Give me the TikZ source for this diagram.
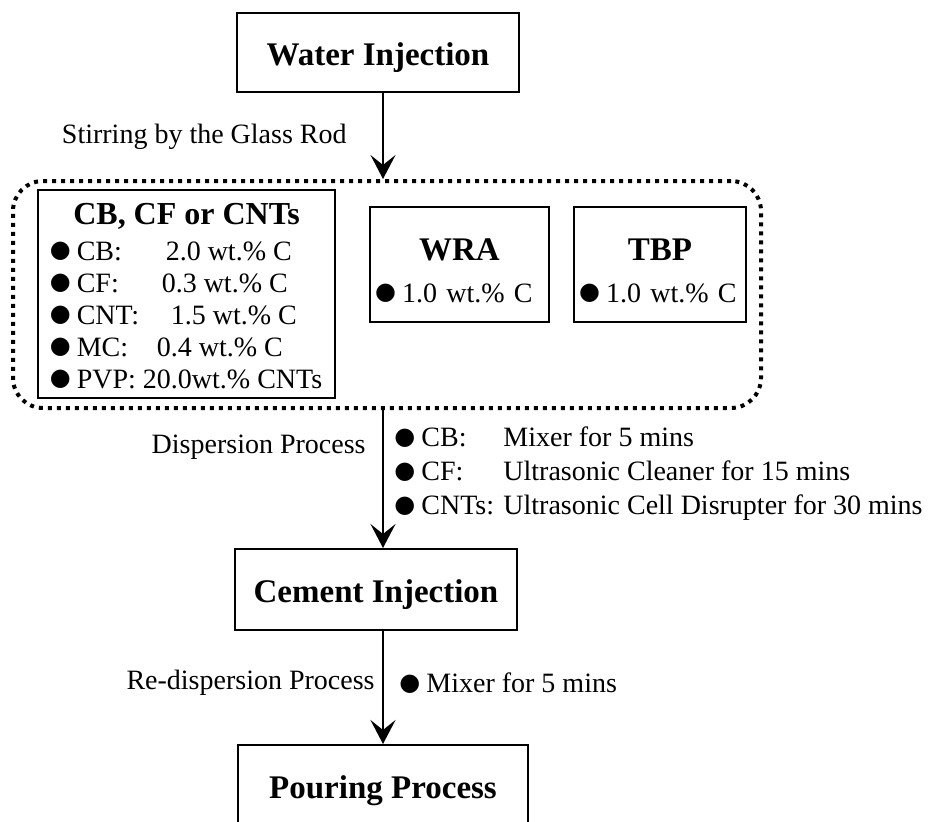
\documentclass[tikz,border=0pt]{standalone}
\usepackage{fontspec}
\setmainfont{Liberation Serif}
\newfontfamily\symfont{DejaVu Sans}
\usetikzlibrary{arrows.meta}

\newcommand{\hd}[1]{{\fontsize{16.5}{20}\selectfont\bfseries #1}}
\newcommand{\bl}{\makebox[13pt][l]{\hspace*{-0.5pt}\raisebox{1.2pt}{\symfont\fontsize{12}{12}\selectfont ●}}}

\begin{document}
\begin{tikzpicture}[x=0.5pt,y=-0.5pt,font=\fontsize{14}{16}\selectfont,
    flow/.style={-{Stealth[length=12pt,width=12.5pt,inset=5pt]},line width=1.3pt},
    lbl/.style={inner sep=0pt}]

  \useasboundingbox (0,0) rectangle (928,821);
  \clip (0,0) rectangle (928,821);

  \coordinate (col) at (383,0);

  \begin{scope}[every node/.style={draw,line width=1pt,inner sep=0pt}]
    \begin{scope}[every node/.append style={text height=13.4pt,text depth=0pt}]
      \node (water)  [minimum width=141pt,minimum height=39.5pt] at (378,52.5) {\hd{Water Injection}};
      \node (cement) [minimum width=141pt,minimum height=40.5pt] at (376,589.5) {\hd{Cement Injection}};
      \node (pour)   [minimum width=145pt,minimum height=40pt] at (383,785) {\hd{Pouring Process}};
    \end{scope}
    \node (carbon) [minimum width=148.5pt,minimum height=103pt] at (186.5,294) {%
      \begin{tabular}{@{}l@{}}
        \multicolumn{1}{@{}c@{}}{\rule{0pt}{17pt}{\fontsize{16}{20}\selectfont\bfseries CB, CF or CNTs}}\\[2pt]
        \bl\makebox[44.5pt][l]{CB:}2.0 wt.\% C\\
        \bl\makebox[42.5pt][l]{CF:}0.3 wt.\% C\\
        \bl\makebox[47pt][l]{CNT:}1.5 wt.\% C\\
        \bl\makebox[40pt][l]{MC:}0.4 wt.\% C\\
        \bl PVP: 20.0wt.\% CNTs
      \end{tabular}};
    \node (wra) [text width=83.5pt,inner xsep=3pt,minimum height=57.5pt,align=left] at (459.5,264.5)
      {\makebox[\linewidth][c]{\rule{0pt}{17pt}\hd{WRA}}\\[5pt]\bl 1.0 wt.\% C};
    \node (tbp) [text width=80pt,inner xsep=3pt,minimum height=57.5pt,align=left] at (660,264.5)
      {\makebox[\linewidth][c]{\rule{0pt}{17pt}\hd{TBP}}\\[5pt]\bl 1.0 wt.\% C};
  \end{scope}

  \node (mix) [draw,line width=2pt,dash pattern=on 2pt off 2.5pt,rounded corners=15pt,
    minimum width=374pt,minimum height=113.5pt,inner sep=0pt] at (387,294.5) {};

  \node (stir) [lbl,anchor=east] at (347,137) {Stirring by the Glass Rod};
  \node (disp) [lbl,anchor=east] at (366,447) {Dispersion Process};
  \node (tools) [lbl,anchor=west] at (395,474) {%
    \begin{tabular}{@{}l@{ }l@{}}
      \bl CB: & Mixer for 5 mins\\[1pt]
      \bl CF: & Ultrasonic Cleaner for 15 mins\\[1pt]
      \bl CNTs: & Ultrasonic Cell Disrupter for 30 mins
    \end{tabular}};
  \node (redisp) [lbl,anchor=east] at (375,683) {Re-dispersion Process};
  \node (remix)  [lbl,anchor=west] at (400,683) {\bl Mixer for 5 mins};

  \draw[flow] (water.south -| col) -- (mix.north -| col);
  \draw[flow] (mix.south -| col) -- (cement.north -| col);
  \draw[flow] (cement.south -| col) -- (pour.north -| col);

\end{tikzpicture}
\end{document}
